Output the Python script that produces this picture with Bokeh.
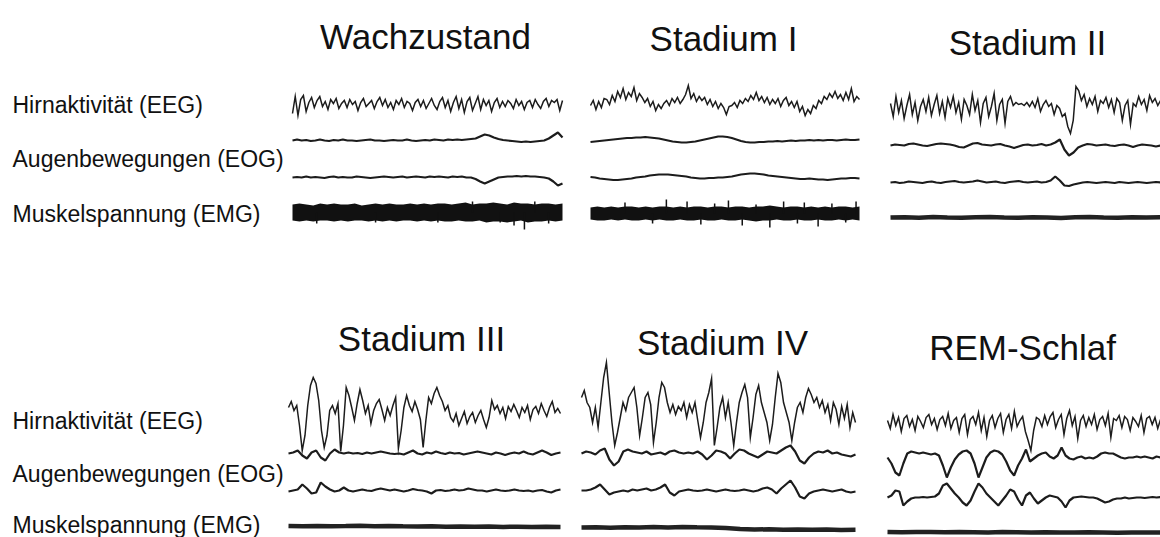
import numpy as np
from bokeh.plotting import figure
from bokeh.models import Range1d
from bokeh.embed import file_html
from bokeh.resources import INLINE
from bokeh.core.properties import value

# ---------------- data (amplitudes in px-like units, + = up) -------------
stage_titles = ["Wachzustand", "Stadium I", "Stadium II", "Stadium III", "Stadium IV", "REM-Schlaf"]
row_labels = ["Hirnaktivität (EEG)", "Augenbewegungen (EOG)", "Muskelspannung (EMG)"]

wach_eeg = [-8, 9, -10, 6, 10, -6, 3, 8, -2, 5, 9, -1, 4, -4, 6, 2, 7, -3, 2, 5,
            -2, 6, 1, 4, -5, 3, 7, -1, 2, 5, -3, 4, 8, 0, 6, -2, 3, -4, 5, 1,
            7, -2, 4, 2, -5, 3, 6, -1, 5, -3, 2, 7, 0, -4, 4, 8, -2, 5, -6, 3,
            9, -3, 6, -7, 4, 8, -5, 2, 9, -4, 6, 0, 5, -6, 3, 7, -2, 4, -1, 5,
            2, -3, 6, 0, 4, -4, 3, 5, -2, 6, 1, -3, 4, 7, -1, 5, 3, 6, -5, 5]
st1_eeg = [-2, 3, -6, 2, -4, 5, 4, -1, 8, 2, 12, 6, 15, 4, 11, 7, 16, 3, 10,
           6, 1, 5, -3, 2, -7, -1, -5, 0, 3, -2, 5, 1, 6, 0, 4, 9, 18, 5, 10, 2, 7,
           3, 6, -1, 4, -3, 2, -5, 0, -4, -11, -3, -2, 1, -4, 3, 0, 5, 2, 8, 4, 11, 3, 7,
           1, 6, -1, 4, 0, 5, -3, 3, 6, -2, 2, -4, 2, -8, -3, -12, -6, -10, -2,
           -5, 3, 0, 7, 4, 10, 6, 12, 5, 9, 3, 11, 4, 15, 2, 7, 4]
st2_eeg = [5, -8, 12, -4, 8, -10, 3, 14, -6, 6, -12, 2, 9, -3, 11, -7, 4, 13, -5, 7,
           -9, 10, 1, 12, -4, 6, -11, 9, 3, -6, 14, -2, 8, -14, 5, 11, -8, 2, 15, -12,
           4, 9, -15, 7, 12, 3, 6, 4, 5, 3, 6, 2, 7, 1, 10, -3, 4, 8, 2, 5,
           -6, 3, 0, -8, -5, -18, -25, -12, 22, 18, 8, 14, 2, 10, 4, 12, -3, 8, 5, 11,
           1, 9, -4, 10, 6, -12, 3, 8, -16, 5, 2, 12, 4, 9, -2, 13, 6, 10, 3, 8]
st3_eeg = [8, 14, 5, 10, -10, -35, -20, 10, 30, 38, 32, 15, -15, -32, -20, 5, 10, 2, 12,
           -36, -10, 28, 20, 8, -5, 12, 26, 15, 2, 10, -8, 5, 12, 16, 6, -5, 8, 0, 10,
           18, -33, -15, 8, 20, 10, 4, 14, 6, -4, -32, -5, 18, 12, 22, 28, 20, 14, 5, 10, -2,
           -6, 2, -10, -3, 4, -8, -1, 3, -7, 0, 5, -4, -12, -2,
           15, 6, 10, 2, 8, -3, 9, 4, 11, 5, -2, 8, 3, 10, -4, 6, 9, 2, 12, 5, -1, 8, 14, 3, 7, 2]
st4_eeg = [15, 22, 10, 5, -10, 5, -15, 10, 35, 50, 20, -10, -33, -20, -5, 10, 2, 15, 20, 25,
           5, -23, -5, 15, 20, 8, -30, -10, 15, 30, 25, 10, 0, 8, -2, 6, 2, 10, -5, 8,
           0, 10, -8, -25, -10, 10, 20, 34, -33, -15, 5, 15, -5, 10, -10, -33, -10, 10, 20, 28,
           15, -25, -5, 18, 27, 10, 0, -10, -28, -12, 15, 39, 30, 10, 0, -10, -28, -10, 5, 10,
           0, 15, 24, 18, 10, 15, 5, 12, 0, 8, -8, 10, 3, -12, 6, -6, 8, -15, 0, -10]
rem_eeg = [2, -6, 8, -3, 5, -9, 4, 7, -4, 3, -8, 6, 1, -5, 5, 8, -2, 4, -7, 3,
           6, -3, 9, -6, 2, 5, -10, 4, 8, -12, 3, 6, -2, 10, -8, 5, -14, 2, 7, -5,
           4, 9, -10, 3, 8, -6, 11, -4, 2, 6, -9, -18, -28, -8, 5, 3, -4, 7, -2, 6,
           10, -5, 3, 8, -12, 4, 12, -3, 6, -16, 2, 7, -4, 5, -2, 8, -7, 3, 6, -3,
           9, -15, 4, 2, 7, -5, 6, 3, -8, 5, 1, -4, 7, -10, 4, 6, -2, 5, -6, 3]

wach_eog1 = [0, 1, 0, 0.5, -0.5, 0, 1, 0, -0.5, 0.5, 0, 1, 0, 0, -0.5, 0, 0.5, 1, 0, 0,
             -0.5, 0, 0.5, 0, 0, 1, 0, -0.5, 0, 0.5, 0, 1, 0.5, 0, 1, 0.5, 1, 0.5, 1, 1.5,
             2, 4, 6, 5, 3, 1.5, 0.5, 0, -0.5, -1, -1.5, -1, -1.5, -1, -0.5, 0, 2, 5, 8, 3]
wach_eog2 = [0, 0.5, 0, 1, 0, 0.5, 0, -0.5, 0.5, 1, 0, 0.5, 0, 0, 1, 0.5, 0, -0.5, 0, 0.5,
             1, 0.5, 0, 0.5, 1, 0, 0.5, 1, 0.5, 0, 1, 0.5, 1, 0.5, 0, 1, 0.5, 1, 0, 0,
             -1.5, -4, -6, -4, -2, 0, 0.5, 1, 1, 1.5, 1, 1.5, 1, 1, 0.5, 0, -1, -4, -8, -6]
st1_eog1 = [-1.5, -1, -0.5, 0, 0.5, 1, 1.5, 2, 2.5, 2.5, 3, 3, 3.5, 3, 2.5, 2, 1, 0, -1, -1.5,
            -2, -2, -1.5, -1, 0, 1, 2, 3, 4, 4, 3.5, 2.5, 1, -0.5, -1.5, -2, -2, -1.5, -1.5, -1,
            -1, -0.5, -1, -0.5, 0, -0.5, 0, 0, 0.5, 0, 0.5, 0, 0.5, 0.5, 0, 0.5, 1, 0.5, 0.5, 1]
st1_eog2 = [0.5, 0, -1, -1.5, -2, -2.5, -2.5, -2, -1.5, -1, 0, 0.5, 1, 2, 2.5, 3, 3, 3, 2.5, 2,
            1.5, 1, 0, -0.5, -1, -1, -0.5, -0.5, 0, 0, 0.5, 1, 2, 3, 3.5, 4, 4, 3.5, 3, 2,
            1.5, 1, 0.5, 0, -0.5, -1, -1.5, -1.5, -1, -1.5, -2, -2, -2.5, -2, -1.5, -1, -1, -0.5, -0.5, -1]
st2_eog1 = [0, 1, 0.5, 0, 1.5, 2, 1, 0, -0.5, 0.5, 1.5, 2, 1.5, 1, 0, -1.5, -2, 0, 2, 2.5,
            1, 0.5, 0, 1, 1.5, 0, -1, -2.5, -1, 0.5, 1, 0, 0.5, 1.5, 0, 1, 3, 6, -4, -10,
            -7, -2, 0, 1.5, 1, 0, 0.5, 1, 0, -0.5, 0.5, 1, 0, -1.5, 0, 1, 0.5, 0, -1, 0]
st2_eog2 = [0, 0.5, -0.5, 0, 1, 0.5, 0, -0.5, 0.5, 1, 0, -0.5, 0.5, 1, 1.5, 0.5, 0, 0.5, 1, 2,
            1, 0, 0.5, 1, 0, -0.5, 0.5, 1, 1.5, 0.5, 0, 0.5, 1, 0, 0.5, 2, 6, 2, -3, -3.5,
            -2, -1, 0, 0.5, 0, -0.5, 0, 0.5, 0, -0.5, 0.5, 0, -0.5, 0, 0.5, 0, -0.5, 0, 0.5, 0]
st3_eog1 = [0, 1, 3, -2, -5, 1, 3, -4, -7, 0, 4, 1, 0, 1, 0, 0.5, -0.5, 1, 0, 1,
            2, 1, 0, -0.5, 0, -1, 1, 3, 0, -1, 1, 0, 2, 0.5, -0.5, 1, 0, 0.5, -1, 0,
            1, 2, 1, 0, -1, 1, 0, -1.5, 0, 1, 0, 2, 0, -1, 1, 3, 1, -1.5, 0, 1]
st3_eog2 = [-1, 0, 1, 6, 2, -3, -2, 8, 4, 1, -1, 0, 3, 0, -1, 0, 1, 0, -0.5, 1,
            2, 1, 0, 1, 0, -1, 0, 1.5, 0.5, 0, -1, -3, 0, 0.5, -0.5, 0, 1, 0, 0.5, 2,
            1, 0, 0, -1, 0, 1, 0, -0.5, 0, 1, 0, -0.5, 0, -1, 0, 0.5, -1, -2, 0, 1]
st4_eog1 = [0, 2, 1, -1, 3, 5, -6, -12, -8, 2, 4, 2, 1, 0, 2, -1, 0, 1, -1, 2,
            3, 1, 0, 1, 0, 2, -1, -6, -2, 3, 2, 0, -5, 0, 4, 3, 0, -2, -4, -1,
            2, 1, 0, 3, 6, 8, 2, -7, -10, -4, 0, 2, 1, 3, 0, 1, -1, -2, -3, -1]
st4_eog2 = [0, 0, 1, 3, 6, 1, -4, -2, -1, 0, -1, 1, 0, 1, 2, 0, 1, 3, 6, -2,
            -5, -1, 0, 1, 0, -0.5, 0, 1, 0, -1, 0, 1, 0, -0.5, 0, 1, 0, -1, 0, 2,
            3, 1, -3, 2, 6, 10, 3, -6, -8, -3, -1, 0, 1, 0, -1, 0, 1, -1, -2, -1]
rem_eog1 = [-2, -8, -17, -20, -8, 2, 4, 3, 2, 3, 2, 1, 2, 0, -10, -22, -12, -4, 1, 4,
            5, 2, -8, -22, -12, -2, 3, 5, 4, 1, -6, -15, -20, -10, -3, 6, -6, -3, 0, 2,
            3, -1, -3, 0, 8, 0, -3, -4, -2, -1, -3, -2, -3, -1, 2, 3, 2, 2, 0, -2,
            -3, -2, -2, -1, -2, -1, -2, -3, -1, -2]
rem_eog2 = [0, 2, 7, 6, -8, -4, -1, 0, 0, 0.5, 0, 0.5, 1, 4, 12, 14, 9, 4, 0, -5,
            -8, -3, 6, 14, 10, 4, 0, -4, -8, -3, 2, 8, 6, -2, -8, 2, 5, -1, -6, -3,
            0, 2, 1, 0, -4, -10, -3, 0, 0.5, 1, 0.5, 0, 0, -1, -3, -5, -4, -2, -1, -1,
            0, -1, -0.5, 0, 0, -0.5, 0, 0.5, 0, 0.5]

# EMG: solid bands (upper / lower envelope) with stray spikes for the two waking-like stages
wach_emg_hi = [8, 9, 8, 7, 9, 8, 9, 8, 8, 9, 7, 8, 9, 8, 9, 8, 8, 9, 8, 9,
               8, 9, 9, 8, 9, 10, 8, 9, 9, 10, 9, 8, 10, 9, 9, 8, 9, 9, 8, 9]
wach_emg_lo = [-8, -9, -8, -9, -8, -8, -9, -8, -9, -8, -8, -9, -8, -9, -8, -9, -8, -8, -9, -8,
               -9, -8, -9, -9, -8, -9, -9, -8, -10, -9, -9, -10, -9, -8, -10, -9, -9, -8, -9, -8]
wach_emg_spk_t = [3.5, 12, 21, 26, 30, 32, 33.5, 35, 37]
wach_emg_spk_a = [-11, -10, -10, 11, -10, -13, -17, 11, -11]
st1_emg_hi = [6, 7, 6, 7, 6, 7, 7, 6, 7, 6, 7, 7, 6, 7, 6, 7, 7, 6, 7, 7,
              6, 7, 7, 6, 7, 7, 8, 7, 6, 7, 7, 6, 7, 6, 7, 6, 7, 7, 6, 7]
st1_emg_lo = [-6, -7, -7, -6, -7, -6, -7, -7, -6, -7, -6, -7, -7, -6, -7, -7, -6, -7, -7, -6,
              -7, -7, -6, -7, -8, -7, -7, -6, -7, -7, -6, -7, -7, -6, -7, -7, -6, -7, -6, -7]
st1_emg_spk_t = [5, 9, 11, 14, 16, 18, 20, 22, 24, 26, 28, 30, 31, 33, 35, 37, 38.5]
st1_emg_spk_a = [11, -10, 14, 12, -11, 10, 13, -12, 9, -14, 12, -10, 11, -13, 10, -9, 12]
# EMG: flat (sleep) traces
st2_emg = [0, 0.3, -0.2, 0.4, 0, -0.3, 0.2, 0.5, 0, -0.2, 0.3, 0, -0.4, 0.2, 0.5, 0.1, -0.2, 0.3, 0, 0.2]
st3_emg = [0.5, 0.3, 0.6, 0.2, 0.4, 0.8, 0.3, 0.5, 0.2, 0, 0.3, -0.2, 0, -0.3, -0.1, -0.4, -0.2, -0.5, -0.3, -0.4]
st4_emg = [1, 1.2, 0.8, 1.3, 1, 1.4, 1.1, 1.5, 1.2, 1, 0.5, -0.5, -1, -0.8, -1.2, -1, -1.3, -1.1, -1.4, -1.2]
rem_emg = [0.5, 0.3, 0.6, 0.4, 0.2, 0.5, 0.3, 0.1, 0.4, 0.2, 0, 0.3, 0.1, -0.1, 0.2, 0, -0.2, 0.1, -0.1, 0]

eeg = [wach_eeg, st1_eeg, st2_eeg, st3_eeg, st4_eeg, rem_eeg]
eog1 = [wach_eog1, st1_eog1, st2_eog1, st3_eog1, st4_eog1, rem_eog1]
eog2 = [wach_eog2, st1_eog2, st2_eog2, st3_eog2, st4_eog2, rem_eog2]
emg_flat = {2: st2_emg, 3: st3_emg, 4: st4_emg, 5: rem_emg}
emg_band = {0: (wach_emg_hi, wach_emg_lo, wach_emg_spk_t, wach_emg_spk_a),
            1: (st1_emg_hi, st1_emg_lo, st1_emg_spk_t, st1_emg_spk_a)}

# ---------------- layout (screen positions, px from top-left) ----------------
W, H = 1160, 537
panel_x = [(292, 562), (590, 859), (890, 1160), (288, 560), (581, 855), (887, 1160)]
panel_base = [(105, 140, 177, 212), (103, 140, 177, 213), (108, 145, 182, 217),
              (415, 453, 490, 526), (412, 453, 490, 528), (422, 455, 497, 532)]
title_pos = [(425, 36), (723, 38), (1027, 42), (421, 338), (722, 342), (1022, 347)]
label_y = [(104, 158, 213), (420, 473, 524)]
FONT = "Liberation Sans"
INK = "#1c1c1c"

p = figure(width=W, height=H, x_range=Range1d(0, W), y_range=Range1d(H, 0),
           output_backend="svg", toolbar_location=None, min_border=0,
           x_axis_location=None, y_axis_location=None)
p.grid.visible = False
p.outline_line_color = None
p.background_fill_color = "white"
p.border_fill_color = "white"


def xs_for(i, n):
    x0, x1 = panel_x[i]
    return np.linspace(x0, x1, n)


for i in range(6):
    b_eeg, b_eog1, b_eog2, b_emg = panel_base[i]
    v = np.array(eeg[i], dtype=float)
    p.line(xs_for(i, len(v)), b_eeg - v, line_color=INK, line_width=1.5, line_join="miter")
    for arr, base in ((eog1[i], b_eog1), (eog2[i], b_eog2)):
        a = np.array(arr, dtype=float)
        p.line(xs_for(i, len(a)), base - a, line_color=INK, line_width=2.2)
    if i in emg_band:
        hi, lo, st, sa = emg_band[i]
        hi = np.array(hi, dtype=float)
        lo = np.array(lo, dtype=float)
        xx = xs_for(i, len(hi))
        p.varea(x=xx, y1=b_emg - hi, y2=b_emg - lo, fill_color="#111111")
        x0, x1 = panel_x[i]
        sx = x0 + np.array(st) / (len(hi) - 1) * (x1 - x0)
        p.segment(x0=sx, y0=np.full(len(sx), b_emg), x1=sx, y1=b_emg - np.array(sa, dtype=float),
                  line_color="#111111", line_width=1.5)
    else:
        a = np.array(emg_flat[i], dtype=float)
        p.line(xs_for(i, len(a)), b_emg - a, line_color="#222222", line_width=4.5)

# stage titles
p.text(x=[t[0] for t in title_pos], y=[t[1] for t in title_pos], text=stage_titles,
       text_font=value(FONT), text_font_size="35px", text_align="center",
       text_baseline="middle", text_color="#111111")

# row labels (both rows)
lx, ly, lt = [], [], []
for row in label_y:
    for yy, t in zip(row, row_labels):
        lx.append(12)
        ly.append(yy)
        lt.append(t)
p.text(x=lx, y=ly, text=lt, text_font=value(FONT), text_font_size="23px",
       text_align="left", text_baseline="middle", text_color="#111111")

open("out.html", "w").write(file_html(p, INLINE))
